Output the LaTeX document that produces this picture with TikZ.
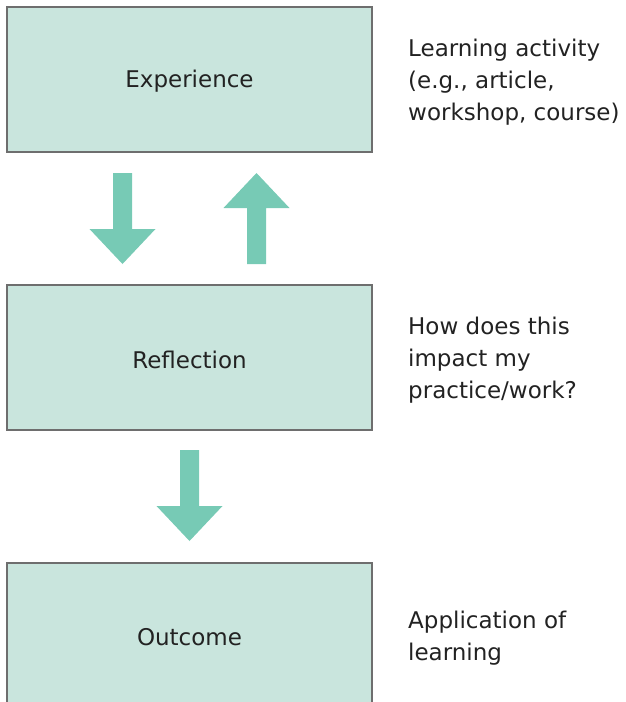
\documentclass[tikz,border=0pt]{standalone}
\usepackage{fontspec}
\setmainfont{DejaVu Sans}
\definecolor{boxfill}{HTML}{C9E5DD}
\definecolor{boxline}{HTML}{6E6E6E}
\definecolor{arrowfill}{HTML}{77CAB5}
\definecolor{ink}{HTML}{222222}
\tikzset{
  textfont/.style={text=ink, font=\fontsize{23pt}{32pt}\selectfont},
  stage/.style={draw=boxline, line width=1.3pt, fill=boxfill,
    minimum width=365pt, minimum height=145pt, inner sep=0pt},
  note/.style={textfont, anchor=west, align=left, inner sep=0pt},
  blockarrow/.pic={
    \fill[arrowfill] (-9.5,0) -- (9.5,0) -- (9.5,56) -- (33,56) -- (0,91)
      -- (-33,56) -- (-9.5,56) -- cycle;}
}
\begin{document}
\begin{tikzpicture}[x=1pt, y=-1pt]
\useasboundingbox (0,0) rectangle (626,702);
\begin{scope}
\clip (0,0) rectangle (626,702);
% stages
\node[stage] (exp) at (189.5,79.5) {};
\node[stage] (ref) at (189.5,357.5) {};
\node[stage] (out) at (189.5,635.5) {};
\node[textfont] (expl) at ([yshift=-2pt]exp.center) {Experience};
\node[textfont] (refl) at ([yshift=-2pt]ref.center) {Reflection};
\node[textfont] (outl) at ([yshift=-2pt]out.center) {Outcome};
% block arrows between the stages
\pic at (122.5,173) {blockarrow};
\pic[rotate=180] at (256.5,264) {blockarrow};
\pic at (189.5,450) {blockarrow};
\end{scope}
% side notes
\node[note] (n1) at (408,82) {Learning activity\\(e.g., article,\\workshop, course)};
\node[note] (n2) at (408,360) {How does this\\impact my\\practice/work?};
\node[note] (n3) at (408,638) {Application of\\learning};
\end{tikzpicture}
\end{document}
